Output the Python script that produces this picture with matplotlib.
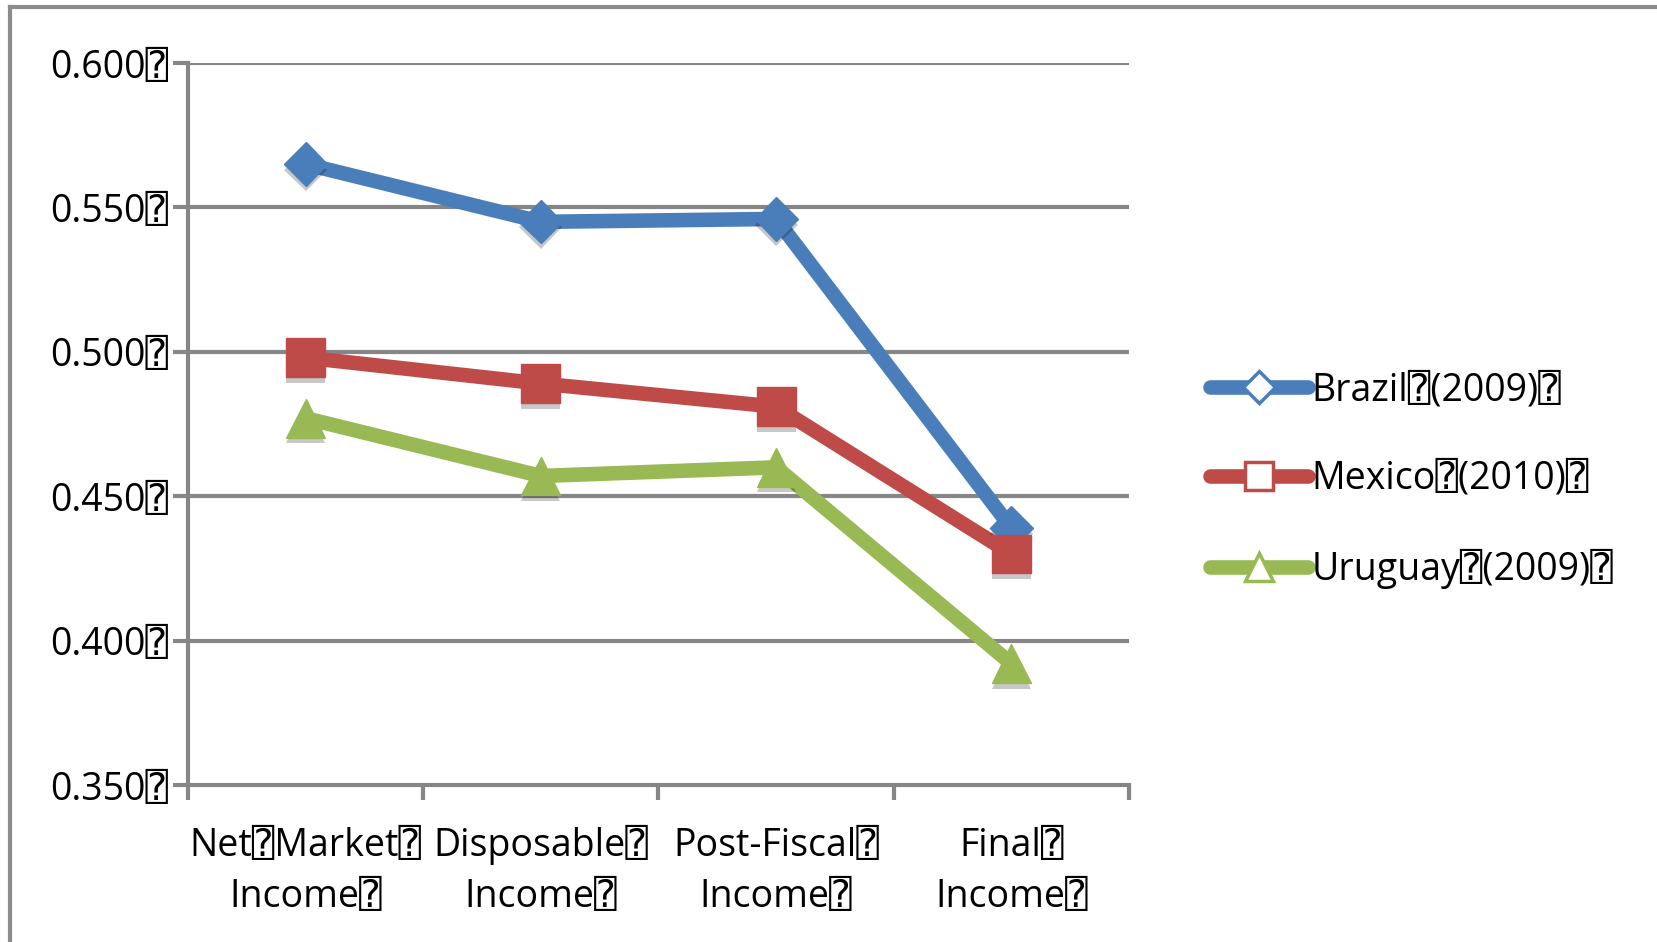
import matplotlib
matplotlib.use("Agg")
import matplotlib.pyplot as plt
import matplotlib.patheffects as pe
import matplotlib.transforms as mtransforms
from matplotlib.lines import Line2D

BOX = "\u2370"

categories = [f"Net{BOX}Market{BOX}\nIncome{BOX}", f"Disposable{BOX}\nIncome{BOX}",
              f"Post-Fiscal{BOX}\nIncome{BOX}", f"Final{BOX}\nIncome{BOX}"]
brazil = [0.565, 0.545, 0.546, 0.439]
mexico = [0.498, 0.489, 0.481, 0.430]
uruguay = [0.477, 0.457, 0.460, 0.392]
series_names = [f"Brazil{BOX}(2009){BOX}", f"Mexico{BOX}(2010){BOX}", f"Uruguay{BOX}(2009){BOX}"]
yticks = [0.350, 0.400, 0.450, 0.500, 0.550, 0.600]

FONT = ["Open Sans", "DejaVu Sans Mono", "DejaVu Sans"]
plt.rcParams["font.family"] = FONT
FS = 27
LW = 10.5

W, H = 1657, 942
fig = plt.figure(figsize=(W / 100, H / 100), dpi=100)
ax = fig.add_axes([188 / W, 157 / H, (1129 - 188) / W, (879 - 157) / H])

grid_c = "#868686"
colors = ["#4a7ebb", "#be4b48", "#98b954"]
markers = ["D", "s", "^"]
msizes = [22, 28, 28]

xs = [i + 0.5 for i in range(len(categories))]
shadow = [pe.SimplePatchShadow(offset=(0, -4), shadow_rgbFace="#000000", alpha=0.22), pe.Normal()]
for vals, c, m, ms in zip([brazil, mexico, uruguay], colors, markers, msizes):
    ax.plot(xs, vals, color=c, lw=LW, solid_capstyle="round", zorder=3)
    ax.plot(xs, vals, ls="none", marker=m, ms=ms, color=c, mec=c, zorder=4,
            path_effects=shadow)

ax.set_xlim(0, 4)
ax.set_ylim(0.350, 0.600)
ax.set_yticks(yticks)
ax.set_yticklabels([f"{v:.3f}{BOX}" for v in yticks], fontsize=FS)
ax.set_xticks(range(5))
ax.set_xticklabels([])
ax.tick_params(axis="x", which="major", length=11, width=3, color=grid_c, direction="out")
ax.tick_params(axis="y", length=11, width=3, color=grid_c, pad=3)

# category labels, two lines each, placed by baseline below the axis
lab_tr = mtransforms.offset_copy(ax.get_xaxis_transform(), fig=fig, y=-122, units="dots")
for x, lab in zip(xs, categories):
    ax.text(x, 0, lab, transform=lab_tr, ha="center", va="baseline", fontsize=FS,
            linespacing=1.46, multialignment="center", clip_on=False)

for y in yticks[1:]:
    ax.axhline(y, color=grid_c, lw=3, zorder=1)
for side in ["top", "right"]:
    ax.spines[side].set_visible(False)
for side in ["left", "bottom"]:
    ax.spines[side].set_color(grid_c)
    ax.spines[side].set_linewidth(3)

handles = [Line2D([0], [0], color=c, lw=LW, solid_capstyle="round", marker=m, ms=ms * 0.72,
                  mfc="white", mec=c, mew=2.5) for c, m, ms in zip(colors, markers, msizes)]
fig.legend(handles, series_names, loc="center left", bbox_to_anchor=(1210 / W, 1 - 480 / H),
           frameon=False, fontsize=FS, handlelength=2.6, handletextpad=0.1, labelspacing=1.35,
           borderaxespad=0, borderpad=0)

# outer chart frame (top and left edges)
fig.add_artist(Line2D([10 / W, 1], [1 - 7 / H, 1 - 7 / H], color="#8c8c8c", lw=3,
                      transform=fig.transFigure))
fig.add_artist(Line2D([10 / W, 10 / W], [0, 1 - 7 / H], color="#8c8c8c", lw=3,
                      transform=fig.transFigure))

fig.savefig("out.png", dpi=100)
